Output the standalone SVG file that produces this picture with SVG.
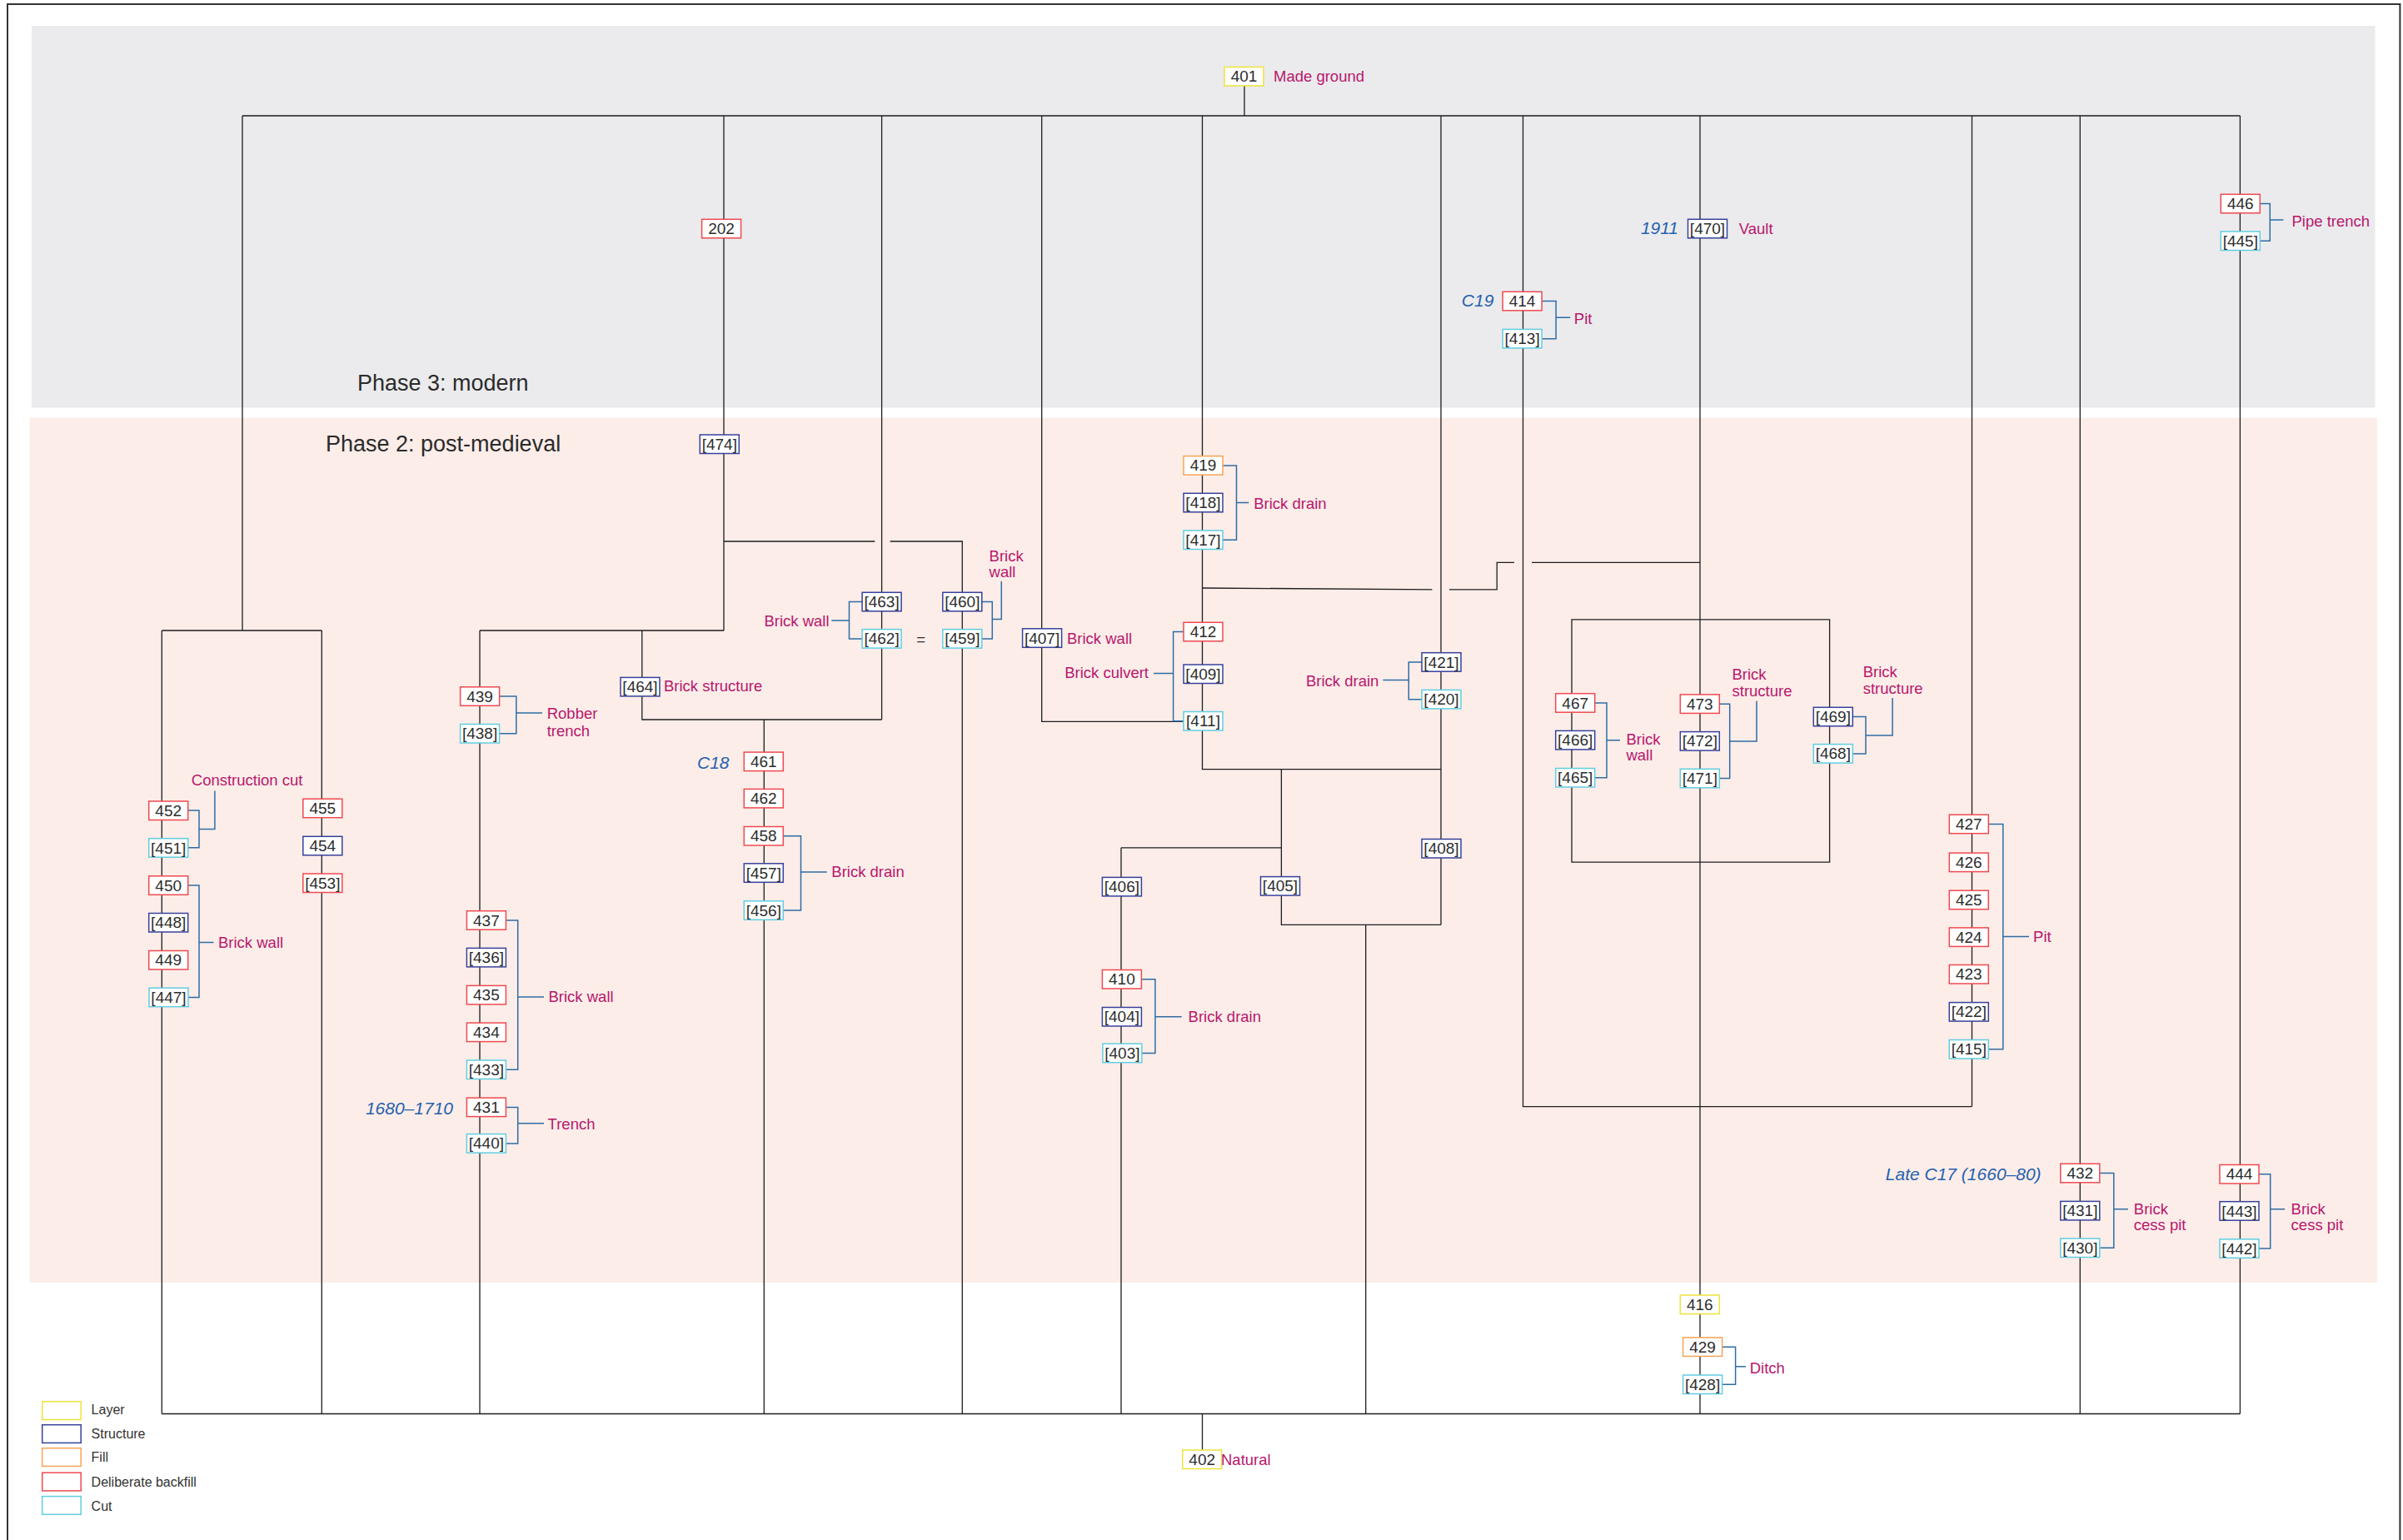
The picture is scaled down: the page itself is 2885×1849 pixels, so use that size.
<svg xmlns="http://www.w3.org/2000/svg" width="2885" height="1849" viewBox="0 0 2885 1849">
<style>
text{font-family:"Liberation Sans",Arial,sans-serif}
.n rect{fill:#fff;stroke-width:1.5}
.layer{stroke:#EDE33B}
.struct{stroke:#38419A}
.fillc{stroke:#F7A357}
.back{stroke:#EF4A4F}
.cut{stroke:#62CDE0}
.nt{font-size:19px;fill:#2d2d2d;text-anchor:middle}
.lab{font-size:18.5px;fill:#B8176C}
.end{text-anchor:end}
.date{font-size:21px;fill:#2461AE;font-style:italic}
.con{fill:none;stroke:#1e1e1e;stroke-width:1.3}
.br{fill:none;stroke:#2E6DA4;stroke-width:1.5}
.phase{font-size:27px;fill:#2b2b2b}
.leg{font-size:16px;fill:#333}
</style>
<rect x="0" y="0" width="2885" height="1849" fill="#fff"/>
<g id="bands">
<rect x="38" y="31" width="2813.5" height="458.5" fill="#EBEBED"/>
<rect x="35.5" y="501.5" width="2818.3" height="1038.5" fill="#FCEDE9"/>
<text class="phase" x="429" y="468.5">Phase 3: modern</text>
<text class="phase" x="391" y="541.7">Phase 2: post-medieval</text>
</g>
<rect x="9" y="5" width="2872.4" height="1862" fill="none" stroke="#333" stroke-width="2"/>
<g id="connectors" class="con">
<path d="M1494 102.5V139M291 139H2689.4"/>
<path d="M291 139V757M194.3 757H386.3M194.3 757V1697.5M386.3 757V1697.5"/>
<path d="M869 139V757M576 757H869M576 757V1697.5M770.8 757V864H1058.6M1058.6 139V864M917.3 864V1697.5"/>
<path d="M869 650H1050.3M1068.7 650H1155.3V1697.5"/>
<path d="M1250.7 139V866.3H1421"/>
<path d="M1443.5 139V923.7H1730M1730 139V1110.3"/>
<path d="M1444 706L1719.4 707.8M1740 707.8H1797.2V675.4H1818M1839 675.4H2041"/>
<path d="M1828.5 139V1328.6H2367.5M2367.5 139V1328.6"/>
<path d="M2041 139V1697.5M2497.3 139V1697.5M2689.4 139V1697.5"/>
<path d="M1887 743.8H2196.6V1035.2H1887Z"/>
<path d="M1538.4 923.7V1110.3H1730M1346 1017.8H1538.4M1346 1017.8V1697.5M1639.7 1110.3V1697.5"/>
<path d="M194.3 1697.5H2689.4M1443.5 1697.5V1741"/>
</g>
<g id="brackets" class="br">
<path d="M225.6 973.1H239V1017.8H225.6M239 995.6H257.9V949.4"/>
<path d="M225.6 1063H239V1197.5H225.6M239 1131.6H256.5"/>
<path d="M599.5 836H619.8V880.7H599.5M619.8 856H651"/>
<path d="M607.4 1105H621.7V1284.2H607.4M621.7 1196.9H653"/>
<path d="M607.4 1329.4H621.7V1372.9H607.4M621.7 1348.8H653"/>
<path d="M1035.1 722.6H1019.5V766.9H1035.1M1019.5 745H998.3"/>
<path d="M1178.8 722.6H1191.3V766.9H1178.8M1191.3 743.4H1202.3V697.9"/>
<path d="M940.3 1003.8H961.5V1093H940.3M961.5 1047H992.8"/>
<path d="M1468 558.9H1484.5V648.3H1468M1484.5 603.5H1499.3"/>
<path d="M1421 758.6H1408.6V865.8H1421M1408.6 808.6H1385"/>
<path d="M1707 795H1691.3V839.7H1707M1691.3 816.5H1660.4"/>
<path d="M1370.4 1175.8H1386.9V1264.5H1370.4M1386.9 1220.8H1418.7"/>
<path d="M1851.1 361.6H1868.1V406.7H1851.1M1868.1 381.2H1885.2"/>
<path d="M1914.6 844H1929V933.8H1914.6M1929 888.7H1945"/>
<path d="M2064.3 845.2H2076.7V934.6H2064.3M2076.7 890H2109V841.8"/>
<path d="M2224.2 860.6H2240V904.9H2224.2M2240 883H2272.1V837.9"/>
<path d="M2387.7 989.5H2404.8V1259.8H2387.7M2404.8 1124.5H2436"/>
<path d="M2521.3 1408.6H2537.8V1498.3H2521.3M2537.8 1451.7H2554.9"/>
<path d="M2711.9 1409.8H2725.7V1499H2711.9M2725.7 1451.7H2743.2"/>
<path d="M2713.3 244.6H2725.3V289.3H2713.3M2725.3 264.1H2741.4"/>
<path d="M2067.5 1617.2H2083.6V1662.3H2067.5M2083.6 1640.8H2096"/>
</g>
<g id="nodes" class="n">
<g id="n401"><rect class="layer" x="1470" y="80.5" width="47" height="22.5"/><text class="nt" x="1493.5" y="98.3">401</text></g>
<g id="n202"><rect class="back" x="842.6" y="263.3" width="47" height="22.5"/><text class="nt" x="866.1" y="281.1">202</text></g>
<g id="n474"><rect class="struct" x="840.3" y="522" width="47" height="22.5"/><text class="nt" x="863.8" y="539.8">[474]</text></g>
<g id="n452"><rect class="back" x="178.7" y="962" width="47" height="22.5"/><text class="nt" x="202.2" y="979.8">452</text></g>
<g id="n451"><rect class="cut" x="178.7" y="1006.7" width="47" height="22.5"/><text class="nt" x="202.2" y="1024.5">[451]</text></g>
<g id="n450"><rect class="back" x="178.7" y="1051.8" width="47" height="22.5"/><text class="nt" x="202.2" y="1069.6">450</text></g>
<g id="n448"><rect class="struct" x="178.7" y="1096.5" width="47" height="22.5"/><text class="nt" x="202.2" y="1114.3">[448]</text></g>
<g id="n449"><rect class="back" x="178.7" y="1141.5" width="47" height="22.5"/><text class="nt" x="202.2" y="1159.3">449</text></g>
<g id="n447"><rect class="cut" x="179" y="1186.2" width="47" height="22.5"/><text class="nt" x="202.5" y="1204">[447]</text></g>
<g id="n455"><rect class="back" x="363.8" y="959.2" width="47" height="22.5"/><text class="nt" x="387.3" y="977">455</text></g>
<g id="n454"><rect class="struct" x="363.8" y="1004.3" width="47" height="22.5"/><text class="nt" x="387.3" y="1022.1">454</text></g>
<g id="n453"><rect class="back" x="363.8" y="1049" width="47" height="22.5"/><text class="nt" x="387.3" y="1066.8">[453]</text></g>
<g id="n439"><rect class="back" x="552.6" y="824.8" width="47" height="22.5"/><text class="nt" x="576.1" y="842.6">439</text></g>
<g id="n438"><rect class="cut" x="552.6" y="869.5" width="47" height="22.5"/><text class="nt" x="576.1" y="887.3">[438]</text></g>
<g id="n437"><rect class="back" x="560.4" y="1093.7" width="47" height="22.5"/><text class="nt" x="583.9" y="1111.5">437</text></g>
<g id="n436"><rect class="struct" x="560.4" y="1138.4" width="47" height="22.5"/><text class="nt" x="583.9" y="1156.2">[436]</text></g>
<g id="n435"><rect class="back" x="560.4" y="1183.4" width="47" height="22.5"/><text class="nt" x="583.9" y="1201.2">435</text></g>
<g id="n434"><rect class="back" x="560.4" y="1228.1" width="47" height="22.5"/><text class="nt" x="583.9" y="1245.9">434</text></g>
<g id="n433"><rect class="cut" x="560.4" y="1273" width="47" height="22.5"/><text class="nt" x="583.9" y="1290.8">[433]</text></g>
<g id="n431"><rect class="back" x="560.4" y="1318.1" width="47" height="22.5"/><text class="nt" x="583.9" y="1335.9">431</text></g>
<g id="n440"><rect class="cut" x="560.4" y="1361.6" width="47" height="22.5"/><text class="nt" x="583.9" y="1379.4">[440]</text></g>
<g id="n464"><rect class="struct" x="745" y="813.4" width="47" height="22.5"/><text class="nt" x="768.5" y="831.2">[464]</text></g>
<g id="n463"><rect class="struct" x="1035.1" y="711.3" width="47" height="22.5"/><text class="nt" x="1058.6" y="729.1">[463]</text></g>
<g id="n462c"><rect class="cut" x="1035.1" y="755.6" width="47" height="22.5"/><text class="nt" x="1058.6" y="773.4">[462]</text></g>
<g id="n460"><rect class="struct" x="1131.8" y="711.3" width="47" height="22.5"/><text class="nt" x="1155.3" y="729.1">[460]</text></g>
<g id="n459"><rect class="cut" x="1131.8" y="755.6" width="47" height="22.5"/><text class="nt" x="1155.3" y="773.4">[459]</text></g>
<g id="n461"><rect class="back" x="893.3" y="903.1" width="47" height="22.5"/><text class="nt" x="916.8" y="920.9">461</text></g>
<g id="n462"><rect class="back" x="893.3" y="947.4" width="47" height="22.5"/><text class="nt" x="916.8" y="965.2">462</text></g>
<g id="n458"><rect class="back" x="893.3" y="992.5" width="47" height="22.5"/><text class="nt" x="916.8" y="1010.3">458</text></g>
<g id="n457"><rect class="struct" x="893.3" y="1036.8" width="47" height="22.5"/><text class="nt" x="916.8" y="1054.6">[457]</text></g>
<g id="n456"><rect class="cut" x="893.3" y="1081.8" width="47" height="22.5"/><text class="nt" x="916.8" y="1099.6">[456]</text></g>
<g id="n407"><rect class="struct" x="1227.6" y="754.8" width="47" height="22.5"/><text class="nt" x="1251.1" y="772.6">[407]</text></g>
<g id="n419"><rect class="fillc" x="1421" y="547.6" width="47" height="22.5"/><text class="nt" x="1444.5" y="565.4">419</text></g>
<g id="n418"><rect class="struct" x="1421" y="592.3" width="47" height="22.5"/><text class="nt" x="1444.5" y="610.1">[418]</text></g>
<g id="n417"><rect class="cut" x="1421" y="637" width="47" height="22.5"/><text class="nt" x="1444.5" y="654.8">[417]</text></g>
<g id="n412"><rect class="back" x="1421" y="747.3" width="47" height="22.5"/><text class="nt" x="1444.5" y="765.1">412</text></g>
<g id="n409"><rect class="struct" x="1421" y="798" width="47" height="22.5"/><text class="nt" x="1444.5" y="815.8">[409]</text></g>
<g id="n411"><rect class="cut" x="1421" y="854.5" width="47" height="22.5"/><text class="nt" x="1444.5" y="872.3">[411]</text></g>
<g id="n421"><rect class="struct" x="1707" y="783.7" width="47" height="22.5"/><text class="nt" x="1730.5" y="801.5">[421]</text></g>
<g id="n420"><rect class="cut" x="1707" y="828.4" width="47" height="22.5"/><text class="nt" x="1730.5" y="846.2">[420]</text></g>
<g id="n408"><rect class="struct" x="1707" y="1007.5" width="47" height="22.5"/><text class="nt" x="1730.5" y="1025.3">[408]</text></g>
<g id="n405"><rect class="struct" x="1513.5" y="1052.6" width="47" height="22.5"/><text class="nt" x="1537" y="1070.4">[405]</text></g>
<g id="n406"><rect class="struct" x="1323.4" y="1053.4" width="47" height="22.5"/><text class="nt" x="1346.9" y="1071.2">[406]</text></g>
<g id="n410"><rect class="back" x="1323.4" y="1164.5" width="47" height="22.5"/><text class="nt" x="1346.9" y="1182.3">410</text></g>
<g id="n404"><rect class="struct" x="1323.4" y="1209.5" width="47" height="22.5"/><text class="nt" x="1346.9" y="1227.3">[404]</text></g>
<g id="n403"><rect class="cut" x="1323.9" y="1253.2" width="47" height="22.5"/><text class="nt" x="1347.4" y="1271">[403]</text></g>
<g id="n414"><rect class="back" x="1804.1" y="350.3" width="47" height="22.5"/><text class="nt" x="1827.6" y="368.1">414</text></g>
<g id="n413"><rect class="cut" x="1804.1" y="395.4" width="47" height="22.5"/><text class="nt" x="1827.6" y="413.2">[413]</text></g>
<g id="n470"><rect class="struct" x="2026.5" y="263.3" width="47" height="22.5"/><text class="nt" x="2050" y="281.1">[470]</text></g>
<g id="n467"><rect class="back" x="1867.7" y="832.7" width="47" height="22.5"/><text class="nt" x="1891.2" y="850.5">467</text></g>
<g id="n466"><rect class="struct" x="1867.7" y="877.4" width="47" height="22.5"/><text class="nt" x="1891.2" y="895.2">[466]</text></g>
<g id="n465"><rect class="cut" x="1867.7" y="922.5" width="47" height="22.5"/><text class="nt" x="1891.2" y="940.3">[465]</text></g>
<g id="n473"><rect class="back" x="2017.3" y="833.9" width="47" height="22.5"/><text class="nt" x="2040.8" y="851.7">473</text></g>
<g id="n472"><rect class="struct" x="2017.3" y="878.6" width="47" height="22.5"/><text class="nt" x="2040.8" y="896.4">[472]</text></g>
<g id="n471"><rect class="cut" x="2017.3" y="923.3" width="47" height="22.5"/><text class="nt" x="2040.8" y="941.1">[471]</text></g>
<g id="n469"><rect class="struct" x="2177.3" y="849.3" width="47" height="22.5"/><text class="nt" x="2200.8" y="867.1">[469]</text></g>
<g id="n468"><rect class="cut" x="2177.3" y="893.6" width="47" height="22.5"/><text class="nt" x="2200.8" y="911.4">[468]</text></g>
<g id="n427"><rect class="back" x="2340.3" y="978.2" width="47" height="22.5"/><text class="nt" x="2363.8" y="996">427</text></g>
<g id="n426"><rect class="back" x="2340.3" y="1024.1" width="47" height="22.5"/><text class="nt" x="2363.8" y="1041.9">426</text></g>
<g id="n425"><rect class="back" x="2340.3" y="1069.2" width="47" height="22.5"/><text class="nt" x="2363.8" y="1087">425</text></g>
<g id="n424"><rect class="back" x="2340.3" y="1113.9" width="47" height="22.5"/><text class="nt" x="2363.8" y="1131.7">424</text></g>
<g id="n423"><rect class="back" x="2340.3" y="1158.5" width="47" height="22.5"/><text class="nt" x="2363.8" y="1176.3">423</text></g>
<g id="n422"><rect class="struct" x="2340.3" y="1203.6" width="47" height="22.5"/><text class="nt" x="2363.8" y="1221.4">[422]</text></g>
<g id="n415"><rect class="cut" x="2340.3" y="1248.5" width="47" height="22.5"/><text class="nt" x="2363.8" y="1266.3">[415]</text></g>
<g id="n446"><rect class="back" x="2666.3" y="233.3" width="47" height="22.5"/><text class="nt" x="2689.8" y="251.1">446</text></g>
<g id="n445"><rect class="cut" x="2666.3" y="278" width="47" height="22.5"/><text class="nt" x="2689.8" y="295.8">[445]</text></g>
<g id="n432"><rect class="back" x="2473.8" y="1397.3" width="47" height="22.5"/><text class="nt" x="2497.3" y="1415.1">432</text></g>
<g id="n431s"><rect class="struct" x="2473.8" y="1442.4" width="47" height="22.5"/><text class="nt" x="2497.3" y="1460.2">[431]</text></g>
<g id="n430"><rect class="cut" x="2473.8" y="1487" width="47" height="22.5"/><text class="nt" x="2497.3" y="1504.8">[430]</text></g>
<g id="n444"><rect class="back" x="2665" y="1398.5" width="47" height="22.5"/><text class="nt" x="2688.5" y="1416.3">444</text></g>
<g id="n443"><rect class="struct" x="2665" y="1442.7" width="47" height="22.5"/><text class="nt" x="2688.5" y="1460.5">[443]</text></g>
<g id="n442"><rect class="cut" x="2665" y="1487.8" width="47" height="22.5"/><text class="nt" x="2688.5" y="1505.6">[442]</text></g>
<g id="n416"><rect class="layer" x="2017.3" y="1555" width="47" height="22.5"/><text class="nt" x="2040.8" y="1572.8">416</text></g>
<g id="n429"><rect class="fillc" x="2020.6" y="1605.9" width="47" height="22.5"/><text class="nt" x="2044.1" y="1623.7">429</text></g>
<g id="n428"><rect class="cut" x="2020.6" y="1651" width="47" height="22.5"/><text class="nt" x="2044.1" y="1668.8">[428]</text></g>
<g id="n402"><rect class="layer" x="1419.7" y="1741" width="47" height="22.5"/><text class="nt" x="1443.2" y="1758.8">402</text></g>
</g>
<g id="labels" class="lab">
<text x="1529" y="98">Made ground</text>
<text x="229.8" y="943.4">Construction cut</text>
<text x="262" y="1138">Brick wall</text>
<text x="656.7" y="863.2">Robber</text>
<text x="656.7" y="884.1">trench</text>
<text x="658.5" y="1203.2">Brick wall</text>
<text x="657.6" y="1355.7">Trench</text>
<text x="797" y="829.6">Brick structure</text>
<text class="end" x="995.5" y="751.7">Brick wall</text>
<text x="1187.6" y="674">Brick</text>
<text x="1187.6" y="693">wall</text>
<text x="998.3" y="1053">Brick drain</text>
<text x="1281" y="773">Brick wall</text>
<text x="1505.2" y="611">Brick drain</text>
<text class="end" x="1379" y="813.7">Brick culvert</text>
<text class="end" x="1655.4" y="824.4">Brick drain</text>
<text x="1426.6" y="1226.9">Brick drain</text>
<text x="1889.8" y="389">Pit</text>
<text x="2087.8" y="280.7">Vault</text>
<text x="1952.4" y="893.6">Brick</text>
<text x="1952.4" y="912.6">wall</text>
<text x="2079.5" y="815.7">Brick</text>
<text x="2079.5" y="835.5">structure</text>
<text x="2236.7" y="813">Brick</text>
<text x="2236.7" y="832.5">structure</text>
<text x="2441.1" y="1130.9">Pit</text>
<text x="2561.8" y="1457.5">Brick</text>
<text x="2561.8" y="1476.5">cess pit</text>
<text x="2750.6" y="1457.5">Brick</text>
<text x="2750.6" y="1476.5">cess pit</text>
<text x="2751.5" y="272">Pipe trench</text>
<text x="2100.7" y="1648.6">Ditch</text>
<text x="1466" y="1758.5">Natural</text>
<text x="1105.6" y="774" style="fill:#2d2d2d;text-anchor:middle">=</text>
</g>
<g id="dates" class="date">
<text x="1969.9" y="280.7">1911</text>
<text x="1754.8" y="367.7">C19</text>
<text x="837" y="922.5">C18</text>
<text x="438.9" y="1337.9">1680–1710</text>
<text x="2263.8" y="1416.7">Late C17 (1660–80)</text>
</g>
<g id="legend">
<rect class="layer" x="50.7" y="1682.8" width="46.5" height="21.7" fill="#fff" stroke-width="1.5"/>
<rect class="struct" x="50.7" y="1710.7" width="46.5" height="21.7" fill="#fff" stroke-width="1.5"/>
<rect class="fillc" x="50.7" y="1738.7" width="46.5" height="21.7" fill="#fff" stroke-width="1.5"/>
<rect class="back" x="50.7" y="1768.2" width="46.5" height="21.7" fill="#fff" stroke-width="1.5"/>
<rect class="cut" x="50.7" y="1796.6" width="46.5" height="21.7" fill="#fff" stroke-width="1.5"/>
<text class="leg" x="109.6" y="1698.3">Layer</text>
<text class="leg" x="109.6" y="1726.7">Structure</text>
<text class="leg" x="109.6" y="1754.6">Fill</text>
<text class="leg" x="109.6" y="1784.9">Deliberate backfill</text>
<text class="leg" x="109.6" y="1813.7">Cut</text>
</g>
</svg>
